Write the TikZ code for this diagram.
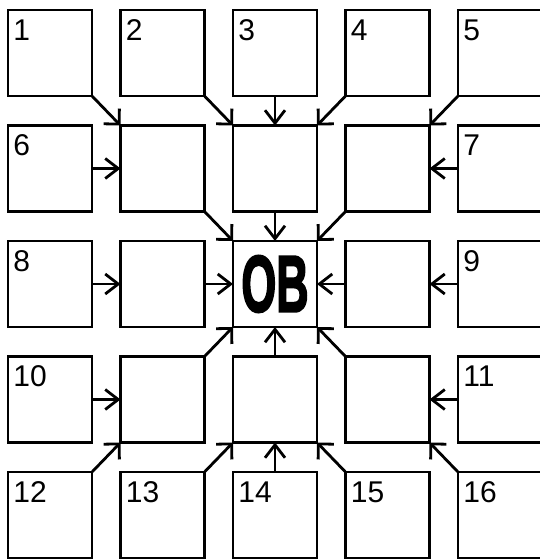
\documentclass[tikz,border=0pt]{standalone}
\usepackage{fontspec}
\setmainfont{Liberation Sans}
\newfontfamily\obfont[FakeBold=3]{Liberation Sans}
\usetikzlibrary{arrows.meta,positioning}

\begin{document}
\begin{tikzpicture}[x=1pt, y=1pt, node distance=29.5pt and 28.5pt, line width=2.8pt]
    % Stili
    \tikzstyle{box}=[rectangle, draw=black, minimum width=84pt, minimum height=86pt, inner sep=0pt, outer sep=0pt]
    \tikzstyle{num}=[anchor=north west, inner sep=0pt, xshift=4pt, yshift=-8pt, font=\fontsize{30}{30}\selectfont]
    \tikzstyle{arrow}=[->, >={Straight Barb[length=13pt, width=20pt]}]
    \tikzstyle{diag}=[->, >={Straight Barb[length=11pt, width=22pt]}]

    \useasboundingbox (0,0) rectangle (540,-559);

    % Prima riga
    \node (b1) [box, anchor=north west, label={[num]north west:1}] at (8,-10) {};
    \node (b2) [box, right=of b1, label={[num]north west:2}] {};
    \node (b3) [box, right=of b2, label={[num]north west:3}] {};
    \node (b4) [box, right=of b3, label={[num]north west:4}] {};
    \node (b5) [box, right=of b4, label={[num]north west:5}] {};

    % Seconda riga
    \node (b6) [box, below=of b1, label={[num]north west:6}] {};
    \node (nw) [box, right=of b6] {};
    \node (n) [box, right=of nw] {};
    \node (ne) [box, right=of n] {};
    \node (b7) [box, right=of ne, label={[num]north west:7}] {};

    % Riga centrale
    \node (b8) [box, below=of b6, label={[num]north west:8}] {};
    \node (w) [box, right=of b8] {};
    \node (ob) [box, right=of w] {\scalebox{0.56}[1]{\fontsize{80}{80}\obfont\bfseries OB}};
    \node (e) [box, right=of ob] {};
    \node (b9) [box, right=of e, label={[num]north west:9}] {};

    % Quarta riga
    \node (b10) [box, below=of b8, label={[num]north west:10}] {};
    \node (sw) [box, right=of b10] {};
    \node (s) [box, right=of sw] {};
    \node (se) [box, right=of s] {};
    \node (b11) [box, right=of se, label={[num]north west:11}] {};

    % Ultima riga
    \node (b12) [box, below=of b10, label={[num]north west:12}] {};
    \node (b13) [box, right=of b12, label={[num]north west:13}] {};
    \node (b14) [box, right=of b13, label={[num]north west:14}] {};
    \node (b15) [box, right=of b14, label={[num]north west:15}] {};
    \node (b16) [box, right=of b15, label={[num]north west:16}] {};

    % Collegamenti verso l'anello interno
    \draw [diag] (b1.south east) -- (nw.north west);
    \draw [diag] (b2.south east) -- (n.north west);
    \draw [arrow] (b3) -- (n);
    \draw [diag] (b4.south west) -- (n.north east);
    \draw [diag] (b5.south west) -- (ne.north east);
    \draw [arrow] (b6) -- (nw);
    \draw [arrow] (b7) -- (ne);
    \draw [arrow] (b8) -- (w);
    \draw [arrow] (b9) -- (e);
    \draw [arrow] (b10) -- (sw);
    \draw [arrow] (b11) -- (se);
    \draw [diag] (b12.north east) -- (sw.south west);
    \draw [diag] (b13.north east) -- (s.south west);
    \draw [arrow] (b14) -- (s);
    \draw [diag] (b15.north west) -- (s.south east);
    \draw [diag] (b16.north west) -- (se.south east);

    % Collegamenti verso OB
    \draw [diag] (nw.south east) -- (ob.north west);
    \draw [arrow] (n) -- (ob);
    \draw [diag] (ne.south west) -- (ob.north east);
    \draw [arrow] (w) -- (ob);
    \draw [arrow] (e) -- (ob);
    \draw [diag] (sw.north east) -- (ob.south west);
    \draw [arrow] (s) -- (ob);
    \draw [diag] (se.north west) -- (ob.south east);

\end{tikzpicture}
\end{document}
